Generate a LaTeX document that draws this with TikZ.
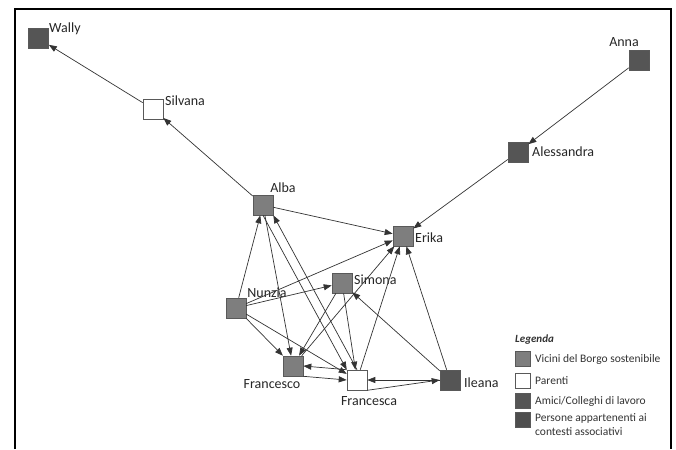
\documentclass[tikz,border=0pt]{standalone}
\usepackage{fontspec}
\setmainfont{Carlito}
\usetikzlibrary{arrows.meta}
\definecolor{midg}{HTML}{7E7E7E}
\definecolor{darkg}{HTML}{555555}
\definecolor{darkerg}{HTML}{4E4E4E}
\tikzset{
  nd/.style={draw=black!65, line width=0.6pt, minimum size=20pt, inner sep=0pt, rectangle},
  vic/.style={nd, fill=midg},
  par/.style={nd, fill=white},
  ami/.style={nd, fill=darkg},
  lbl/.style={font=\fontsize{14}{14}\selectfont, inner sep=0pt, text=black!85},
  edge/.style={draw=black!80, line width=0.7pt, -{Triangle[length=8pt,width=6pt]}},
  lgbox/.style={draw=black!65, line width=0.6pt, minimum size=15pt, inner sep=0pt},
  lgtxt/.style={font=\fontsize{11.5}{14}\selectfont, inner sep=0pt, anchor=west, align=left, text=black!80}
}
\begin{document}
\begin{tikzpicture}[x=1pt,y=-1pt]
\useasboundingbox (0,0) rectangle (676,449);
\fill[white] (0,0) rectangle (676,449);
\draw[line width=2pt] (15,449) -- (15,9) -- (671,9) -- (671,449);

% nodes
\node[ami] (Wally) at (38.5,38.5) {};
\node[par] (Silvana) at (153,109) {};
\node[ami] (Anna) at (639,60) {};
\node[ami] (Alessandra) at (518,152) {};
\node[vic] (Alba) at (263,205) {};
\node[vic] (Erika) at (403,236) {};
\node[vic] (Simona) at (342,283) {};
\node[vic] (Nunzia) at (236,308) {};
\node[vic] (Francesco) at (293,366) {};
\node[par] (Francesca) at (357,380) {};
\node[ami] (Ileana) at (450,380) {};

% labels
\node[lbl, anchor=west] (lWally) at (49,29) {Wally};
\node[lbl, anchor=west] (lSilvana) at (165,101) {Silvana};
\node[lbl] (lAnna) at (624,42) {Anna};
\node[lbl, anchor=west] (lAlessandra) at (532,152) {Alessandra};
\node[lbl] (lAlba) at (283,188) {Alba};
\node[lbl, anchor=west] (lErika) at (415,238) {Erika};
\node[lbl, anchor=west] (lSimona) at (354,280) {Simona};
\node[lbl] (lNunzia) at (267,293) {Nunzia};
\node[lbl] (lFrancesco) at (272,384) {Francesco};
\node[lbl] (lFrancesca) at (369,401) {Francesca};
\node[lbl, anchor=west] (lIleana) at (464,383) {Ileana};

% edges
\draw[edge] (Silvana) -- (Wally);
\draw[edge] (Alba) -- (Silvana);
\draw[edge] (Anna) -- (Alessandra);
\draw[edge] (Alessandra) -- (Erika);
\draw[edge] (Alba) -- (Erika);
\draw[edge] (Nunzia) -- (Alba);
\draw[edge] (Alba) -- (Francesco);
\draw[edge] (Alba.south) -- (Francesca.north west);
\draw[edge] (Francesca.north) -- (Alba.south east);
\draw[edge] (Nunzia) -- (Erika);
\draw[edge] (Nunzia) -- (Simona);
\draw[edge] (Nunzia) -- (Francesco);
\draw[edge] (Nunzia) -- (Francesca);
\draw[edge] (Simona) -- (Francesco);
\draw[edge] (Simona) -- (Francesca);
\draw[edge] (Francesco) -- (Erika);
\draw[edge] (Francesca) -- (Erika);
\draw[edge] (Ileana) -- (Erika);
\draw[edge] (Ileana) -- (Simona);
\draw[edge] (Francesca.north west) -- (Francesco.east);
\draw[edge] (Francesco.south east) -- (Francesca.west);
\draw[edge] (Ileana.west) -- (Francesca.east);
\draw[edge] (Francesca.south east) -- (Ileana.west);

% legend
\node[font=\fontsize{11}{11}\selectfont\bfseries\itshape, anchor=west, inner sep=0pt, text=black!80] (lgt) at (515,340) {Legenda};
\node[lgbox, fill=midg] (lg1) at (523,359) {};
\node[lgbox, fill=white] (lg2) at (523,381) {};
\node[lgbox, fill=darkg] (lg3) at (523,401) {};
\node[lgbox, fill=darkerg] (lg4) at (523,420) {};
\node[lgtxt] (lt1) at (535,359) {Vicini del Borgo sostenibile};
\node[lgtxt] (lt2) at (535,381) {Parenti};
\node[lgtxt] (lt3) at (535,401) {Amici/Colleghi di lavoro};
\node[lgtxt, anchor=north west] (lt4) at (535,413) {Persone appartenenti ai\\contesti associativi};
\end{tikzpicture}
\end{document}
